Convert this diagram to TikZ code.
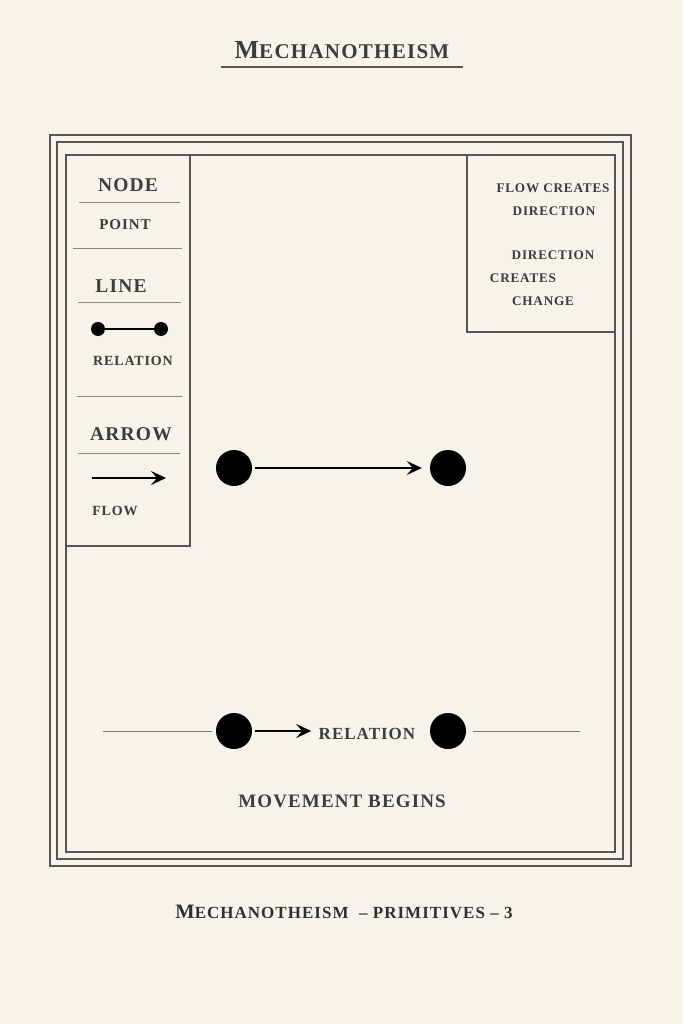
\documentclass[tikz,border=0pt]{standalone}
\usepackage{fontspec}
\setmainfont{Liberation Serif}
\newfontfamily\capfont[LetterSpace=6]{Liberation Serif}
\usetikzlibrary{arrows.meta}
\definecolor{paper}{HTML}{F6F3EB}
\definecolor{ink}{HTML}{3C3C3C}
\definecolor{rule}{HTML}{555555}

\tikzset{
  frame/.style={draw=rule, line width=1.1pt},
  sep/.style={draw=rule!70, line width=0.9pt},
  thinline/.style={draw=rule!80, line width=0.9pt},
  dot/.style={circle, fill=black, inner sep=0pt, minimum size=36pt},
  smalldot/.style={circle, fill=black, inner sep=0pt, minimum size=14pt},
  bond/.style={line width=2pt, black},
  flow/.style={-{Stealth[length=15pt,width=14pt,inset=6pt]}, line width=2pt, black},
  head/.style={text=ink, font=\capfont\bfseries\fontsize{19.5}{19.5}\selectfont},
  lbl/.style={text=ink, font=\capfont\bfseries\fontsize{14}{14}\selectfont},
  note/.style={text=ink, font=\capfont\bfseries\fontsize{13.2}{13.2}\selectfont},
}

\begin{document}
\begin{tikzpicture}[x=1pt,y=-1pt]

\fill[paper] (0,0) rectangle (683,1024);
\useasboundingbox (0,0) rectangle (683,1024);

% title
\node[text=ink, font=\capfont\bfseries] (ttl) at (342,50)
  {\fontsize{26}{26}\selectfont M\fontsize{21}{21}\selectfont ECHANOTHEISM};
\draw[frame] (221,67) -- (463,67);

% frames
\draw[frame] (50,135) rectangle (631,866);
\draw[frame] (57,142) rectangle (623,859);
\draw[frame] (66,155) rectangle (615,852);
\draw[frame] (66,155) rectangle (190,546);
\draw[frame] (467,155) rectangle (615,332);

% legend
\node[head] (node) at (128,185) {NODE};
\draw[sep] (79,202) -- (180,202);
\node[lbl, font=\capfont\bfseries\fontsize{15}{15}\selectfont] (point) at (125,225) {POINT};
\draw[sep] (73,248) -- (182,248);
\node[head] (line) at (121,286) {LINE};
\draw[sep] (78,302) -- (181,302);
\node[smalldot] (ld1) at (98,329) {};
\node[smalldot] (ld2) at (161,329) {};
\draw[bond] (ld1) -- (ld2);
\node[lbl] (relation) at (133,361) {RELATION};
\draw[sep] (77,396) -- (182,396);
\node[head] (arrow) at (131,434) {ARROW};
\draw[sep] (78,453) -- (180,453);
\coordinate (la1) at (92,478);
\coordinate (la2) at (166,478);
\draw[flow] (la1) -- (la2);
\node[lbl] (flow) at (115,511) {FLOW};

% notes
\node[note] (n1) at (553,188) {FLOW CREATES};
\node[note] (n2) at (554,211) {DIRECTION};
\node[note] (n3) at (553,255) {DIRECTION};
\node[note] (n4) at (523,278) {CREATES};
\node[note] (n5) at (543,301) {CHANGE};

% middle
\node[dot] (m1) at (234,468) {};
\node[dot] (m2) at (448,468) {};
\draw[flow, shorten <=3pt, shorten >=8pt] (m1) -- (m2);

% bottom
\node[dot] (b1) at (234,731) {};
\node[dot] (b2) at (448,731) {};
\node[text=ink, font=\capfont\bfseries\fontsize{17}{17}\selectfont] (rel) at (367,734) {RELATION};
\coordinate (bl) at (103,731);
\coordinate (br) at (580,731);
\draw[thinline, shorten >=4pt] (bl) -- (b1);
\draw[thinline, shorten <=7pt] (b2) -- (br);
\draw[flow, shorten <=3pt, shorten >=4pt] (b1) -- (b1 -| rel.west);
\node[text=ink, font=\capfont\bfseries\fontsize{19}{19}\selectfont] (move) at (342,801) {MOVEMENT BEGINS};

% footer
\node[text=ink!80!black, font=\capfont\bfseries] (foot) at (344,912)
  {\fontsize{20.5}{20.5}\selectfont M\fontsize{17}{17}\selectfont ECHANOTHEISM\ \ – PRIMITIVES – 3};

\end{tikzpicture}
\end{document}
